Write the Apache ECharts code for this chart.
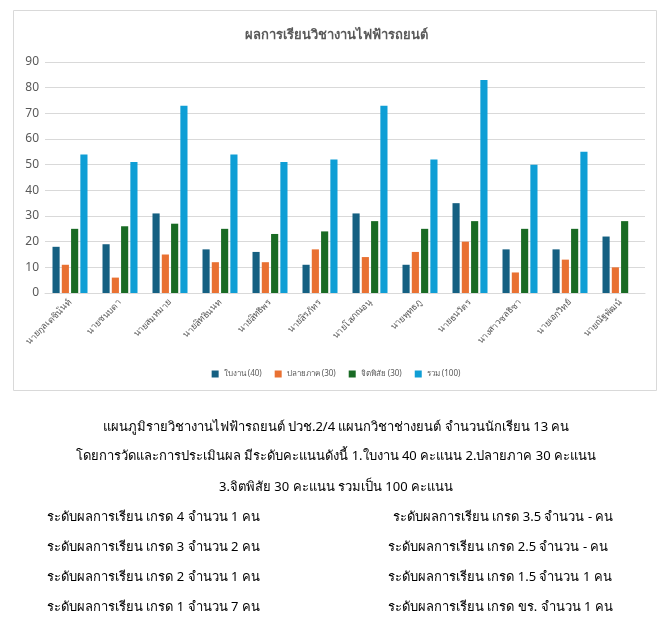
<!DOCTYPE html>
<html>
<head>
<meta charset="utf-8">
<script src="https://cdn.jsdelivr.net/npm/echarts@6/dist/echarts.min.js"></script>
<style>
  html, body { margin: 0; padding: 0; background: #fff; }
  #main { width: 672px; height: 632px; }
</style>
</head>
<body>
<div id="main"></div>
<script>
// ชื่อนักเรียน
const students = ['นายกุลเดชินันท์', 'นายชนบดา', 'นายสมหมาย', 'นายสิทธินนท', 'นายสิทธิพร', 'นายสิรภัทร',
  'นายโสภณอนุ', 'นายพุทธภู', 'นายธนวัตร', 'นางสาวชลธิชา', 'นายเอกวิทย์', 'นายณัฐพัฒน์']

const worksheet = [18, 19, 31, 17, 16, 11, 31, 11, 35, 17, 17, 22]   // ใบงาน (40)
const finalExam = [11, 6, 15, 12, 12, 17, 14, 16, 20, 8, 13, 10]     // ปลายภาค (30)
const attitude = [25, 26, 27, 25, 23, 24, 28, 25, 28, 25, 25, 28]    // จิตพิสัย (30)
const total = [54, 51, 73, 54, 51, 52, 73, 52, 83, 50, 55, null]     // รวม (100)

const seriesNames = ['ใบงาน (40)', 'ปลายภาค (30)', 'จิตพิสัย (30)', 'รวม (100)']

// ข้อความใต้กราฟ
const noteLines = [
  'แผนภูมิรายวิชางานไฟฟ้ารถยนต์ ปวช.2/4 แผนกวิชาช่างยนต์ จำนวนนักเรียน 13 คน',
  'โดยการวัดและการประเมินผล มีระดับคะแนนดังนี้ 1.ใบงาน 40 คะแนน 2.ปลายภาค 30 คะแนน',
  '3.จิตพิสัย 30 คะแนน รวมเป็น 100 คะแนน'
]
const gradeLeft = [
  'ระดับผลการเรียน เกรด 4 จำนวน 1 คน',
  'ระดับผลการเรียน เกรด 3 จำนวน 2 คน',
  'ระดับผลการเรียน เกรด 2 จำนวน 1 คน',
  'ระดับผลการเรียน เกรด 1 จำนวน 7 คน'
]
const gradeRight = [
  'ระดับผลการเรียน เกรด 3.5 จำนวน - คน',
  'ระดับผลการเรียน เกรด 2.5 จำนวน - คน',
  'ระดับผลการเรียน เกรด 1.5 จำนวน 1 คน',
  'ระดับผลการเรียน เกรด ขร. จำนวน 1 คน'
]

let chart = echarts.init(document.querySelector('#main'))

const textFont = 'Tahoma, "Noto Sans", sans-serif'

let graphics = [
  // กรอบแผนภูมิ
  {
    type: 'rect',
    shape: { x: 13.5, y: 10.5, width: 643, height: 380 },
    style: { fill: 'none', stroke: '#d9d9d9', lineWidth: 1 },
    silent: true
  }
]
noteLines.forEach((t, i) => {
  graphics.push({
    type: 'text', x: 336, y: [427, 456, 487][i],
    style: { text: t, fill: '#000', font: '13px ' + textFont, textAlign: 'center', textVerticalAlign: 'middle' }
  })
})
gradeLeft.forEach((t, i) => {
  graphics.push({
    type: 'text', x: 47, y: 517 + i * 30,
    style: { text: t, fill: '#000', font: '13px ' + textFont, textAlign: 'left', textVerticalAlign: 'middle' }
  })
})
gradeRight.forEach((t, i) => {
  graphics.push({
    type: 'text', x: i === 0 ? 393 : 388, y: 517 + i * 30,
    style: { text: t, fill: '#000', font: '13px ' + textFont, textAlign: 'left', textVerticalAlign: 'middle' }
  })
})

let option = {
  animation: false,
  color: ['#156082', '#e97132', '#196b24', '#0f9ed5'],
  title: {
    text: 'ผลการเรียนวิชางานไฟฟ้ารถยนต์',
    left: 'center',
    top: 24,
    textStyle: { color: '#595959', fontSize: 13, fontWeight: 'bold', fontFamily: textFont }
  },
  legend: {
    top: 365,
    left: 'center',
    itemWidth: 7,
    itemHeight: 7,
    itemGap: 13,
    icon: 'rect',
    textStyle: { color: '#595959', fontSize: 8, fontFamily: textFont }
  },
  grid: { left: 45, right: 27, top: 62, height: 231, containLabel: false },
  xAxis: {
    type: 'category',
    data: students,
    axisTick: { show: false },
    axisLine: { lineStyle: { color: '#d9d9d9' } },
    axisLabel: { rotate: 45, interval: 0, color: '#595959', fontSize: 9, margin: 8, fontFamily: textFont }
  },
  yAxis: {
    type: 'value',
    min: 0,
    max: 90,
    interval: 10,
    axisLine: { show: false },
    axisTick: { show: false },
    axisLabel: { color: '#595959', fontSize: 12, margin: 6, fontFamily: textFont },
    splitLine: { lineStyle: { color: '#d9d9d9' } }
  },
  series: [
    { type: 'bar', name: seriesNames[0], data: worksheet, barGap: '30%', barCategoryGap: '30%' },
    { type: 'bar', name: seriesNames[1], data: finalExam },
    { type: 'bar', name: seriesNames[2], data: attitude },
    { type: 'bar', name: seriesNames[3], data: total }
  ],
  graphic: graphics
}
chart.setOption(option)
</script>
</body>
</html>
